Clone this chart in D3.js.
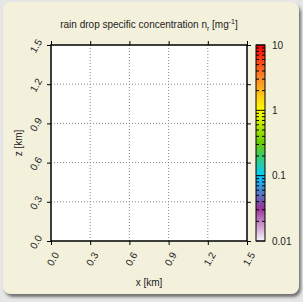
<!DOCTYPE html>
<html>
<head>
<meta charset="utf-8">
<script src="https://cdn.jsdelivr.net/npm/d3@7"></script>
<style>
  html, body { margin: 0; padding: 0; background: #e6e6e6; }
  svg { display: block; font-family: "Liberation Sans", Arial, sans-serif; }
</style>
</head>
<body>
<div id="chart"></div>
<script>
// axis ticks (km) and colour bar ticks (mg^-1)
const xTicks = [0.0, 0.3, 0.6, 0.9, 1.2, 1.5];
const zTicks = [0.0, 0.3, 0.6, 0.9, 1.2, 1.5];
const cbTicks = [0.01, 0.1, 1, 10];
const cbLabels = ["0.01", "0.1", "1", "10"];
// palette stops, evenly spaced in log space from 0.01 to 10
const paletteColors = ["#f8f4fa", "#993399", "#00ccff", "#66cc00", "#ffff00", "#fc8727", "#fd0000"];

const width = 303, height = 302;
const margin = {top: 45, right: 56, bottom: 61, left: 51};

const svg = d3.select("#chart").append("svg")
    .attr("width", width)
    .attr("height", height);

// panel with shadow
const defs = svg.append("defs");
const shadow = defs.append("filter").attr("id", "shadow")
    .attr("x", "-10%").attr("y", "-10%").attr("width", "120%").attr("height", "120%");
shadow.append("feDropShadow")
    .attr("dx", 2).attr("dy", 3).attr("stdDeviation", 1.5)
    .attr("flood-color", "#555").attr("flood-opacity", 0.8);

svg.append("rect")
    .attr("x", 3).attr("y", 2)
    .attr("width", 296).attr("height", 292)
    .attr("rx", 8)
    .attr("fill", "#f3f1dc")
    .attr("filter", "url(#shadow)");

const x = d3.scaleLinear()
    .domain([0, 1.5])
    .range([margin.left, width - margin.right]);

const y = d3.scaleLinear()
    .domain([0, 1.5])
    .range([height - margin.bottom, margin.top]);

// plot area
svg.append("rect")
    .attr("x", x(0)).attr("y", y(1.5))
    .attr("width", x(1.5) - x(0)).attr("height", y(0) - y(1.5))
    .attr("fill", "white");

// dotted grid
svg.append("g").selectAll("line")
    .data(xTicks.slice(1, -1))
    .join("line")
    .attr("x1", d => x(d)).attr("x2", d => x(d))
    .attr("y1", y(0)).attr("y2", y(1.5))
    .attr("stroke", "#888").attr("stroke-dasharray", "1,2");

svg.append("g").selectAll("line")
    .data(zTicks.slice(1, -1))
    .join("line")
    .attr("y1", d => y(d)).attr("y2", d => y(d))
    .attr("x1", x(0)).attr("x2", x(1.5))
    .attr("stroke", "#888").attr("stroke-dasharray", "1,2");

// axes, ticks outward on all four sides
const tickFmt = d3.format(".1f");
svg.append("g")
    .attr("transform", `translate(0,${y(0)})`)
    .call(d3.axisBottom(x).tickValues(xTicks).tickSize(4).tickFormat(""));
svg.append("g")
    .attr("transform", `translate(0,${y(1.5)})`)
    .call(d3.axisTop(x).tickValues(xTicks).tickSize(4).tickFormat(""));
svg.append("g")
    .attr("transform", `translate(${x(0)},0)`)
    .call(d3.axisLeft(y).tickValues(zTicks).tickSize(4).tickFormat(""));
svg.append("g")
    .attr("transform", `translate(${x(1.5)},0)`)
    .call(d3.axisRight(y).tickValues(zTicks).tickSize(4).tickFormat(""));
svg.selectAll(".domain").attr("stroke", "none");
svg.selectAll(".tick line").attr("stroke", "black");

// border
svg.append("rect")
    .attr("x", x(0)).attr("y", y(1.5))
    .attr("width", x(1.5) - x(0)).attr("height", y(0) - y(1.5))
    .attr("fill", "none").attr("stroke", "black").attr("stroke-width", 1.5);

// rotated tick labels
svg.append("g").selectAll("text")
    .data(xTicks)
    .join("text")
    .attr("transform", d => `translate(${x(d) + 2},${y(0) + 18}) rotate(-60)`)
    .attr("text-anchor", "middle")
    .attr("dy", "0.35em")
    .attr("font-size", 10)
    .attr("fill", "#222")
    .text(tickFmt);

svg.append("g").selectAll("text")
    .data(zTicks)
    .join("text")
    .attr("transform", d => `translate(36,${y(d) + 1}) rotate(-60)`)
    .attr("text-anchor", "middle")
    .attr("dy", "0.35em")
    .attr("font-size", 10)
    .attr("fill", "#222")
    .text(tickFmt);

// axis titles
svg.append("text")
    .attr("x", x(0.75)).attr("y", 286)
    .attr("text-anchor", "middle")
    .attr("font-size", 10)
    .attr("fill", "#222")
    .text("x [km]");

svg.append("text")
    .attr("transform", `translate(22,${y(0.75)}) rotate(-90)`)
    .attr("text-anchor", "middle")
    .attr("font-size", 10)
    .attr("fill", "#222")
    .text("z [km]");

// title with subscript and superscript
const title = svg.append("text")
    .attr("x", 149).attr("y", 28)
    .attr("text-anchor", "middle")
    .attr("font-size", 10)
    .attr("fill", "#222");
title.append("tspan").text("rain drop specific concentration n");
title.append("tspan").attr("dy", 3).attr("font-size", 7).text("r");
title.append("tspan").attr("dy", -3).text(" [mg");
title.append("tspan").attr("dy", -4).attr("font-size", 7).text("-1");
title.append("tspan").attr("dy", 4).text("]");

// colour bar
const cbX = 256, cbW = 9;
const c = d3.scaleLog()
    .domain([0.01, 10])
    .range([y(0), y(1.5)]);

const grad = defs.append("linearGradient")
    .attr("id", "cbgrad")
    .attr("x1", 0).attr("x2", 0).attr("y1", 1).attr("y2", 0);
grad.selectAll("stop")
    .data(paletteColors)
    .join("stop")
    .attr("offset", (d, i) => i / (paletteColors.length - 1))
    .attr("stop-color", d => d);

svg.append("rect")
    .attr("x", cbX).attr("y", c(10))
    .attr("width", cbW).attr("height", c(0.01) - c(10))
    .attr("fill", "url(#cbgrad)");

// minor log ticks inside the bar, both sides
const minor = [];
for (let dec of [0.01, 0.1, 1]) {
    for (let m = 2; m <= 9; m++) minor.push(dec * m);
}
const cbt = svg.append("g");
cbt.selectAll("line.l")
    .data(minor.concat(cbTicks))
    .join("line")
    .attr("x1", cbX).attr("x2", d => cbTicks.includes(d) ? cbX + 4.5 : cbX + 3)
    .attr("y1", d => c(d)).attr("y2", d => c(d))
    .attr("stroke", "black");
cbt.selectAll("line.r")
    .data(minor.concat(cbTicks))
    .join("line")
    .attr("x1", cbX + cbW).attr("x2", d => cbTicks.includes(d) ? cbX + cbW - 4.5 : cbX + cbW - 3)
    .attr("y1", d => c(d)).attr("y2", d => c(d))
    .attr("stroke", "black");

svg.append("rect")
    .attr("x", cbX).attr("y", c(10))
    .attr("width", cbW).attr("height", c(0.01) - c(10))
    .attr("fill", "none").attr("stroke", "black");

svg.append("g").selectAll("text")
    .data(cbTicks)
    .join("text")
    .attr("x", 272)
    .attr("y", d => c(d))
    .attr("dy", "0.35em")
    .attr("font-size", 10)
    .attr("fill", "#222")
    .text((d, i) => cbLabels[i]);
</script>
</body>
</html>
